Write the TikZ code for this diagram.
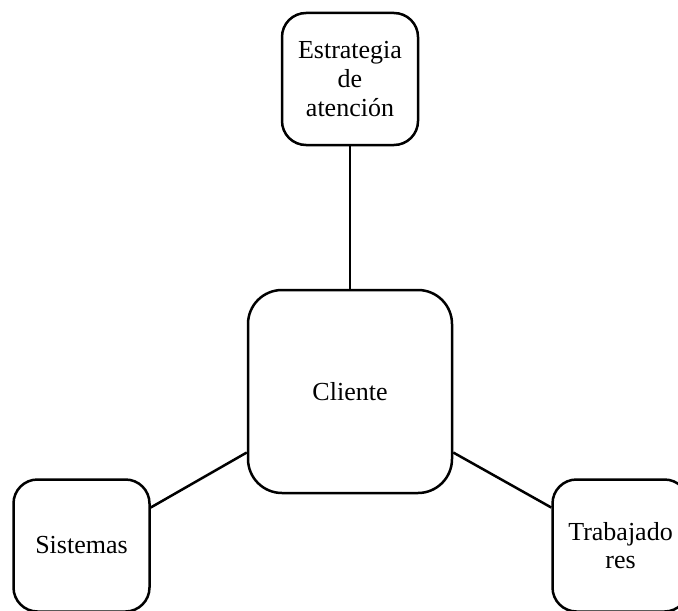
\documentclass[tikz,border=0pt]{standalone}
\usepackage{fontspec}
\setmainfont{Liberation Serif}
\usepackage{tikz}
\usetikzlibrary{calc}

\begin{document}
\begin{tikzpicture}[x=0.5pt,y=-0.5pt,font=\fontsize{13}{14.3}\selectfont,
 box/.style={draw=black,line width=1.25pt,rounded corners=12pt,fill=white,align=center,minimum width=68pt,minimum height=66pt,inner sep=2pt},
 core/.style={box,rounded corners=17pt,minimum width=102pt,minimum height=101.5pt},
 link/.style={line width=1.25pt,draw=black}]
\path[use as bounding box,clip] (0,0) rectangle (678,610);
\node[box] (estrategia) at (350,79) {Estrategia\\de\\atención};
\node[core] (cliente) at (350,391.5) {Cliente};
\node[box] (sistemas) at (81.5,545.5) {Sistemas};
\node[box] (trabajadores) at (620.5,545.5) {Trabajado\\res};
\draw[link] (estrategia) -- (cliente);
\draw[link] ([yshift=-30.5pt]cliente.west) -- ([yshift=19pt]sistemas.east);
\draw[link] ([yshift=-30.5pt]cliente.east) -- ([yshift=19pt]trabajadores.west);
\end{tikzpicture}
\end{document}
